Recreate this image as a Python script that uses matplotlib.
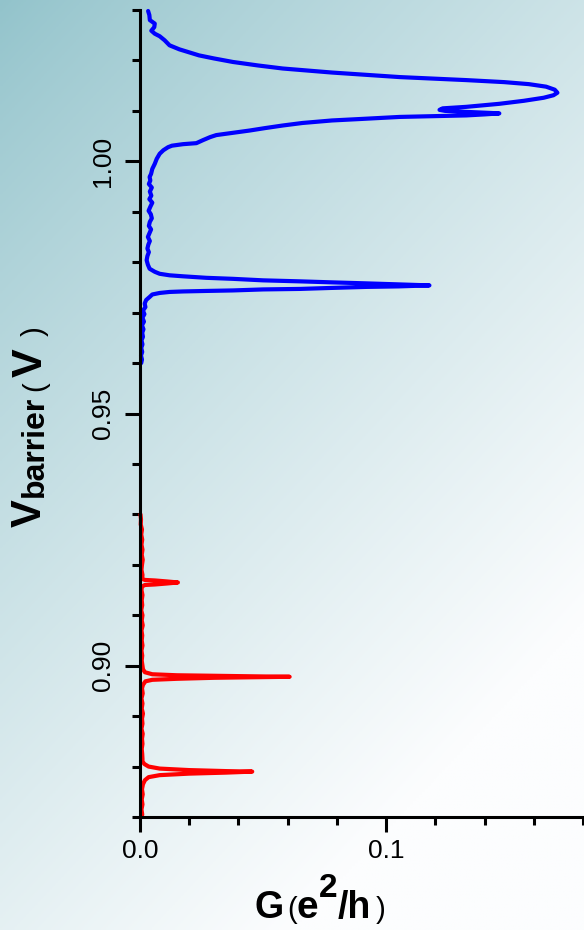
import numpy as np
import matplotlib.pyplot as plt
from matplotlib.ticker import MultipleLocator

plt.rcParams['font.family'] = ['Liberation Sans', 'DejaVu Sans']

# barrier voltage (V) and conductance (e^2/h)
blue_v = [1.0298, 1.0290, 1.0280, 1.0273, 1.0266, 1.0259, 1.0253, 1.0248, 1.0240, 1.0230,
          1.0222, 1.0216, 1.0210, 1.0204, 1.0197, 1.0190, 1.0184, 1.0176, 1.0167, 1.0161,
          1.0157, 1.0153, 1.0148, 1.0142, 1.0136, 1.0131, 1.0126, 1.0120, 1.0114, 1.0108,
          1.0105, 1.0102, 1.0100, 1.0098, 1.0096, 1.0095, 1.0093, 1.0091, 1.0088, 1.0084,
          1.0081, 1.0076, 1.0071, 1.0066, 1.0061, 1.0056, 1.0052, 1.0048, 1.0042, 1.0036,
          1.0034, 1.0031, 1.0028, 1.0022, 1.0015, 1.0005, 0.9995, 0.9985, 0.9975, 0.9969,
          0.9962, 0.9955, 0.9948, 0.9940, 0.9932, 0.9925, 0.9918, 0.9910, 0.9902, 0.9895,
          0.9887, 0.9880, 0.9872, 0.9865, 0.9857, 0.9850, 0.9842, 0.9835, 0.9827, 0.9820,
          0.9812, 0.9804, 0.9795, 0.9787, 0.9781, 0.9777, 0.9774, 0.9772, 0.9769, 0.9767,
          0.9764, 0.9762, 0.9760, 0.9758, 0.9756, 0.9754, 0.9752, 0.9751, 0.9749, 0.9747,
          0.9746, 0.9744, 0.9743, 0.9742, 0.9741, 0.9739, 0.9736, 0.9731, 0.9725, 0.9718,
          0.9711, 0.9704, 0.9697, 0.9690, 0.9682, 0.9675, 0.9667, 0.9660, 0.9652, 0.9645,
          0.9637, 0.9630, 0.9622, 0.9615, 0.9607, 0.9600]
blue_g = [0.0033, 0.0038, 0.0040, 0.0060, 0.0058, 0.0046, 0.0060, 0.0080, 0.0100, 0.0120,
          0.0160, 0.0200, 0.0240, 0.0300, 0.0377, 0.0480, 0.0580, 0.0780, 0.1055, 0.1326,
          0.1480, 0.1580, 0.1650, 0.1685, 0.1696, 0.1680, 0.1640, 0.1560, 0.1460, 0.1326,
          0.1230, 0.1217, 0.1240, 0.1326, 0.1420, 0.1460, 0.1400, 0.1326, 0.1055, 0.0900,
          0.0780, 0.0660, 0.0580, 0.0510, 0.0445, 0.0370, 0.0310, 0.0285, 0.0256, 0.0229,
          0.0175, 0.0130, 0.0114, 0.0095, 0.0080, 0.0068, 0.0060, 0.0050, 0.0045, 0.0039,
          0.0042, 0.0036, 0.0048, 0.0040, 0.0046, 0.0038, 0.0050, 0.0042, 0.0035, 0.0044,
          0.0048, 0.0040, 0.0036, 0.0045, 0.0038, 0.0032, 0.0040, 0.0034, 0.0030, 0.0036,
          0.0030, 0.0027, 0.0032, 0.0039, 0.0060, 0.0080, 0.0120, 0.0175, 0.0270, 0.0377,
          0.0500, 0.0650, 0.0780, 0.0920, 0.1050, 0.1176, 0.1050, 0.0920, 0.0780, 0.0650,
          0.0500, 0.0377, 0.0270, 0.0175, 0.0120, 0.0080, 0.0050, 0.0039, 0.0025, 0.0019,
          0.0022, 0.0012, 0.0018, 0.0010, 0.0016, 0.0008, 0.0014, 0.0009, 0.0012, 0.0006,
          0.0010, 0.0005, 0.0009, 0.0004, 0.0008, 0.0005]

red_v = [0.9300, 0.9290, 0.9280, 0.9270, 0.9260, 0.9250, 0.9240, 0.9230, 0.9220, 0.9210,
         0.9200, 0.9190, 0.9180, 0.9172, 0.9170, 0.9169, 0.9167, 0.9165, 0.9163, 0.9161,
         0.9160, 0.9157, 0.9150, 0.9140, 0.9130, 0.9120, 0.9110, 0.9100, 0.9090, 0.9080,
         0.9070, 0.9060, 0.9050, 0.9040, 0.9030, 0.9020, 0.9010, 0.9000, 0.8993, 0.8987,
         0.8983, 0.8981, 0.8980, 0.8979, 0.8978, 0.8977, 0.8976, 0.8974, 0.8972, 0.8969,
         0.8962, 0.8955, 0.8945, 0.8935, 0.8925, 0.8915, 0.8905, 0.8895, 0.8885, 0.8875,
         0.8865, 0.8855, 0.8845, 0.8835, 0.8825, 0.8815, 0.8810, 0.8805, 0.8800, 0.8796,
         0.8793, 0.8791, 0.8790, 0.8788, 0.8786, 0.8783, 0.8779, 0.8773, 0.8765, 0.8755,
         0.8745, 0.8735, 0.8725, 0.8715, 0.8705, 0.8700]
red_g = [0.0002, 0.0004, 0.0003, 0.0008, 0.0005, 0.0009, 0.0006, 0.0010, 0.0007, 0.0011,
         0.0008, 0.0006, 0.0010, 0.0009, 0.0020, 0.0060, 0.0110, 0.0154, 0.0110, 0.0060,
         0.0020, 0.0008, 0.0006, 0.0010, 0.0007, 0.0009, 0.0005, 0.0010, 0.0007, 0.0011,
         0.0006, 0.0009, 0.0007, 0.0010, 0.0006, 0.0009, 0.0007, 0.0010, 0.0012, 0.0020,
         0.0050, 0.0150, 0.0300, 0.0450, 0.0608, 0.0450, 0.0300, 0.0150, 0.0050, 0.0022,
         0.0012, 0.0008, 0.0011, 0.0006, 0.0010, 0.0007, 0.0012, 0.0008, 0.0010, 0.0006,
         0.0011, 0.0008, 0.0010, 0.0007, 0.0009, 0.0010, 0.0010, 0.0018, 0.0035, 0.0080,
         0.0200, 0.0350, 0.0456, 0.0350, 0.0200, 0.0080, 0.0035, 0.0020, 0.0012, 0.0008,
         0.0011, 0.0007, 0.0010, 0.0006, 0.0009, 0.0007]

y_ticks = [0.90, 0.95, 1.00]
y_ticklabels = ['0.90', '0.95', '1.00']
x_ticks = [0.0, 0.1]
x_ticklabels = ['0.0', '0.1']

W, H = 584, 930
fig = plt.figure(figsize=(W / 100, H / 100), dpi=100)

# teal (top left) -> white (bottom right) background
bg = fig.add_axes([0, 0, 1, 1], zorder=-10)
yy, xx = np.mgrid[0:1:300j, 0:1:200j]
t = np.clip(0.5 * xx + 0.75 * yy, 0, 1) ** 0.85
c0 = np.array([146, 195, 203]) / 255
c1 = np.array([252, 253, 254]) / 255
bg.imshow(c0 + (c1 - c0) * t[..., None], aspect='auto', extent=[0, 1, 0, 1])
bg.axis('off')

ax = fig.add_axes([140 / W, 113 / H, 443 / W, 807 / H])
ax.patch.set_alpha(0)
ax.plot(blue_g, blue_v, color='#0000ff', lw=3, solid_joinstyle='round', solid_capstyle='round', clip_on=False)
ax.plot(red_g, red_v, color='#ff0000', lw=3, solid_joinstyle='round', solid_capstyle='round', clip_on=False)

ax.set_xlim(0, 0.18)
ax.set_ylim(0.87, 1.03)
for s in ['top', 'right']:
    ax.spines[s].set_visible(False)
for s in ['left', 'bottom']:
    ax.spines[s].set_linewidth(2.2)

ax.set_xticks(x_ticks)
ax.set_xticklabels(x_ticklabels)
ax.set_yticks(y_ticks)
ax.set_yticklabels(y_ticklabels, rotation=90, va='center')
ax.xaxis.set_minor_locator(MultipleLocator(0.02))
ax.yaxis.set_minor_locator(MultipleLocator(0.01))
ax.tick_params(which='major', length=11, width=2.2, labelsize=19, direction='out')
ax.tick_params(which='minor', length=6, width=2.2, direction='out')
ax.tick_params(axis='x', pad=5)
ax.tick_params(axis='y', pad=7)


def put(px, py, s, size, weight='bold', rot=0):
    fig.text(px / W, 1 - py / H, s, fontsize=size, fontweight=weight, rotation=rot,
             rotation_mode='anchor', ha='left', va='baseline')


# x label: G (e^2/h)
put(255, 918, 'G', 27)
put(287, 918, '(', 21, 'normal')
put(297, 918, 'e', 28)
put(319, 897, '2', 24)
put(338, 918, '/h', 27)
put(376, 918, ')', 21, 'normal')

# y label: V_barrier (V)
put(41, 527, 'V', 30, rot=90)
put(43, 497, 'barrier', 23, rot=90)
put(43, 391, '(', 21, 'normal', rot=90)
put(42, 377, 'V', 31, rot=90)
put(43, 336, ')', 21, 'normal', rot=90)

fig.savefig('out.png', dpi=100)
